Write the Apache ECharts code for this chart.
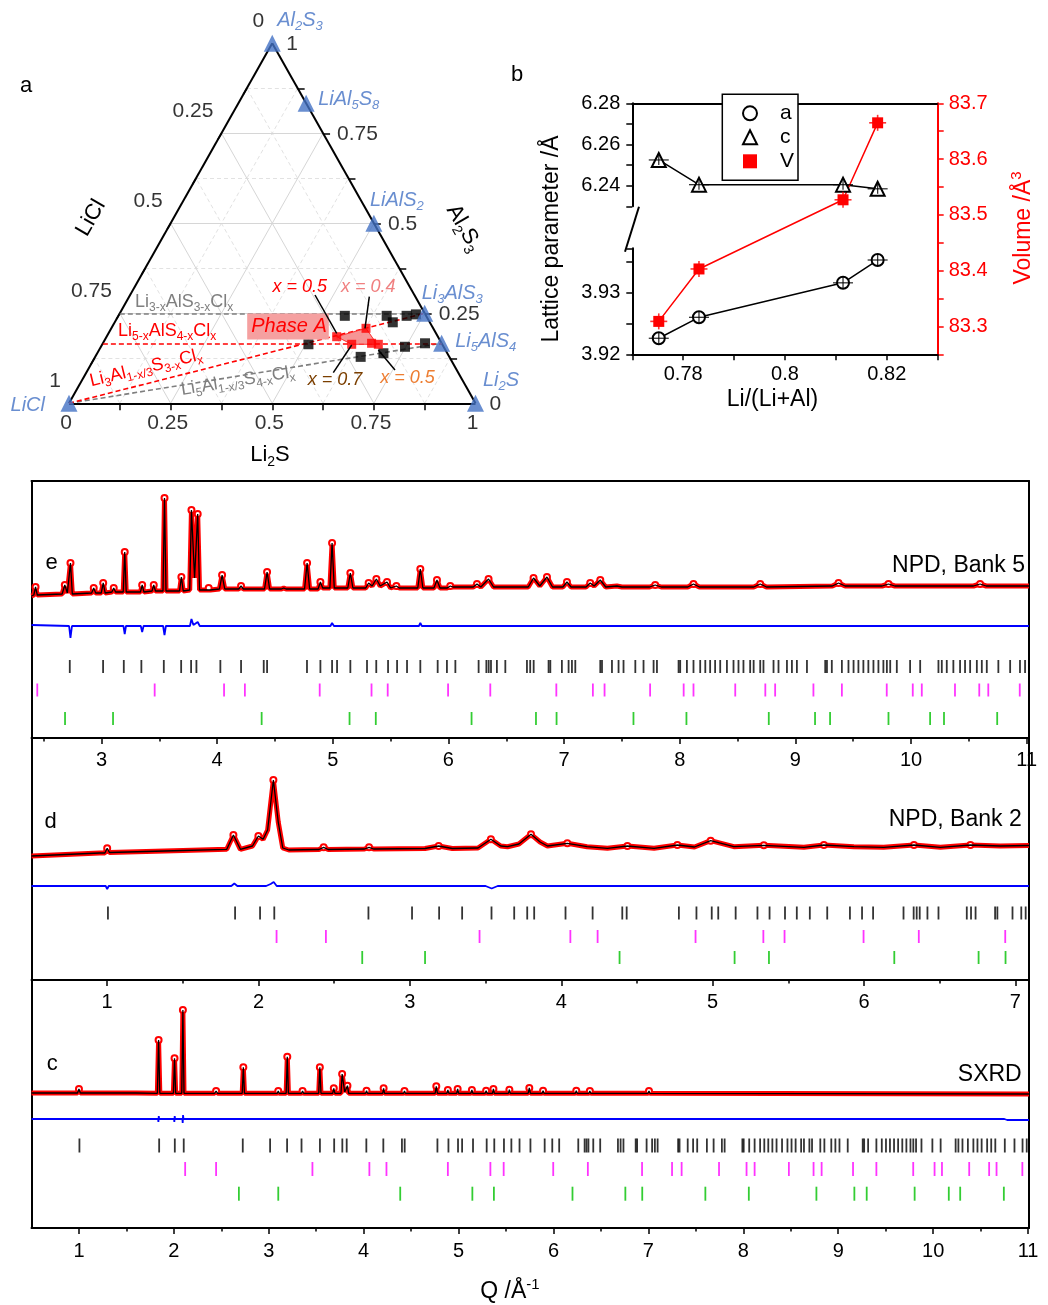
<!DOCTYPE html>
<html><head><meta charset="utf-8">
<script src="https://cdn.jsdelivr.net/npm/echarts@6/dist/echarts.min.js"></script>
<style>html,body{margin:0;padding:0;background:#fff}#c{width:1048px;height:1305px}</style>
</head><body><div id="c"></div>
<script>
const FF = "'Liberation Sans', Arial, Helvetica, sans-serif";
// ================= DATA =================
// (a) ternary, mole fractions [Li2S, Al2S3]  (LiCl = 1 - Li2S - Al2S3)
const compoundNames = ['Al_{2}S_{3}','LiAl_{5}S_{8}','LiAlS_{2}','Li_{3}AlS_{3}','Li_{5}AlS_{4}','Li_{2}S','LiCl'];
const compoundLi2S  = [0, 1/6, 0.5, 0.75, 5/6, 1, 0];
const compoundAl2S3 = [1, 5/6, 0.5, 0.25, 1/6, 0, 0];
const sampleLi2S  = [0.557,0.660,0.684,0.709,0.730,0.507,0.748,0.7925,0.704,0.653];
const sampleAl2S3 = [0.243,0.243,0.225,0.243,0.247,0.164,0.157,0.1667,0.139,0.129];
const phaseALi2S  = [0.566,0.6265,0.6135,0.661,0.679];
const phaseAAl2S3 = [0.185,0.2083,0.1639,0.1667,0.1639];
const phaseAOutline = [[0.566,0.185],[0.6265,0.2083],[0.669,0.170],[0.672,0.164],[0.6135,0.1639]];
const ternTicks = [0, 0.25, 0.5, 0.75, 1];
// (b) lattice parameters
const liRatio = [0.7752, 0.7831, 0.8114, 0.8182];
const latA = [3.9226, 3.9260, 3.9316, 3.9353];
const latC = [6.2525, 6.2405, 6.2405, 6.2385];
const volV = [83.309, 83.403, 83.527, 83.665];
// (e) NPD bank 5 : [Q, intensity a.u.]
const eProfile = [[2.395,30],[2.415,31],[2.43,39],[2.445,31],[2.66,32],[2.683,41],[2.705,33],[2.732,63],[2.748,32],
[2.915,33],[2.933,38],[2.95,33],[2.998,33],[3.015,43],[3.032,33],[3.09,34],[3.106,38],[3.122,34],[3.188,34],[3.201,74],[3.214,34],
[3.337,34],[3.352,41],[3.367,34],[3.437,35],[3.452,41],[3.467,35],[3.532,35],[3.545,128],[3.558,35],[3.675,35],[3.691,49],[3.707,35],
[3.763,36],[3.778,116],[3.805,48],[3.832,112],[3.848,36],[3.912,36],[3.927,38],[3.942,36],[4.02,37],[4.043,51],[4.066,37],
[4.187,37],[4.207,40],[4.227,37],[4.41,37],[4.432,54],[4.454,37],[4.556,37],[4.576,38],[4.596,37],[4.756,37],[4.778,63],[4.8,37],
[4.873,37],[4.893,44],[4.913,38],[4.975,38],[4.994,83],[5.013,38],[5.13,38],[5.152,53],[5.174,38],[5.285,38],[5.31,43],[5.34,40],
[5.377,47],[5.41,40],[5.469,44],[5.5,38],[5.55,40],[5.575,38],[5.735,38],[5.757,57],[5.779,38],[5.875,38],[5.901,46],[5.927,38],
[5.99,38],[6.016,40],[6.04,39],[6.215,39],[6.247,42],[6.28,39],[6.347,47],[6.39,39],[6.69,39],[6.736,48],[6.79,40],[6.852,49],[6.9,39],
[6.99,39],[7.025,44],[7.06,39],[7.19,39],[7.226,43],[7.26,40],[7.313,46],[7.36,39],[7.457,40],[7.5,39],[7.74,39],[7.788,41],[7.84,39],
[8.07,39],[8.119,42],[8.17,39],[8.64,39],[8.696,42],[8.75,39],[9.32,40],[9.373,43],[9.43,40],[9.75,40],[9.805,42],[9.86,40],
[10.54,40],[10.597,42],[10.65,40],[11.02,40]];
const eDiff = [[2.395,1],[2.72,0],[2.732,-12],[2.745,0],[3.19,0],[3.201,-8],[3.212,0],[3.34,0],[3.352,-6],[3.364,0],[3.533,0],[3.545,-9],
[3.557,0],[3.765,0],[3.778,7],[3.795,1],[3.832,4],[3.85,0],[4.98,0],[4.994,3],[5.01,0],[5.745,0],[5.757,3],[5.77,0],[11.02,0]];
// (d) NPD bank 2
const dProfile = [[0.5,30],[0.95,33],[0.985,33],[1.0,37.7],[1.015,33.5],[1.5,35.5],[1.79,36.7],[1.834,51],[1.88,36.7],[1.96,40],
[1.999,50],[2.03,46.7],[2.06,56],[2.098,106],[2.13,64],[2.16,38],[2.2,36],[2.4,36.5],[2.43,38.7],[2.46,36.5],[2.7,37],[2.73,38.7],
[2.76,37],[3.1,37.5],[3.19,40],[3.28,37.5],[3.45,38],[3.535,46.7],[3.6,40],[3.645,39.3],[3.72,42],[3.8,51.7],[3.86,44],[3.909,40],
[4.04,42.7],[4.17,39.3],[4.305,37.7],[4.437,40],[4.613,37.7],[4.767,41],[4.88,39],[4.987,45.3],[5.14,39.3],[5.338,40.7],[5.603,38.7],
[5.735,41],[5.933,39.3],[6.13,38.7],[6.33,41],[6.505,38.7],[6.703,41],[6.9,40],[7.09,40.5]];
const dDiff = [[0.5,0],[0.99,0],[1.0,-3],[1.01,0],[1.82,0],[1.84,2.5],[1.86,0],[1.99,0],[2.0,1.5],[2.02,0],[2.05,0],[2.08,2],[2.1,4],
[2.12,0],[3.5,0],[3.54,-2.5],[3.58,0],[7.09,0]];
// (c) SXRD
const cProfile = [[0.5,26],[0.985,26],[1.0,30],[1.015,26],[1.6,26],[1.826,25.7],[1.839,79],[1.852,25.7],[1.995,25.7],[2.007,60.7],
[2.019,25.7],[2.083,25.7],[2.095,109],[2.107,25.7],[2.43,25.7],[2.445,28],[2.46,25.7],[2.72,25.7],[2.732,51.7],[2.744,25.7],
[3.09,25.7],[3.1,28],[3.11,25.7],[3.183,25.7],[3.195,62.3],[3.207,25.7],[3.345,25.7],[3.356,28],[3.367,25.7],[3.526,25.7],[3.538,51.7],
[3.55,25.7],[3.673,25.7],[3.685,30.7],[3.697,25.7],[3.761,25.7],[3.773,45],[3.8,27],[3.829,33.3],[3.842,25.7],[4.02,25.7],[4.03,28.3],
[4.04,25.7],[4.2,25.7],[4.21,30.7],[4.22,25.7],[4.42,25.7],[4.43,28],[4.44,25.7],[4.753,25.7],[4.765,32.7],[4.777,25.7],[4.877,25.7],
[4.887,29],[4.897,25.7],[4.98,25.7],[4.99,30],[5.0,25.7],[5.13,25.7],[5.14,29],[5.15,25.7],[5.28,25.7],[5.29,28.3],[5.3,25.7],
[5.357,25.7],[5.367,30],[5.377,25.7],[5.525,25.7],[5.535,29.3],[5.545,25.7],[5.733,25.7],[5.745,31],[5.757,25.7],[5.88,25.7],
[5.89,28.3],[5.9,25.7],[6.23,25.7],[6.24,28.3],[6.25,25.7],[6.373,25.7],[6.383,28],[6.393,25.7],[6.996,25.7],[7.006,28],[7.016,25.7],[11.01,25]];
const cDiff = [[0.5,0],[1.834,0],[1.837,-3],[1.841,3],[1.845,0],[2.002,0],[2.005,-3],[2.009,3],[2.013,0],[2.09,0],[2.093,-4],[2.097,4],
[2.101,0],[10.75,0],[10.78,-1],[11.01,-1]];
// reflection positions (Q / Å^-1)
const blackTicks = [1.005,1.845,2.010,2.104,2.726,3.014,3.193,3.345,3.539,3.689,3.775,3.821,4.028,4.207,4.403,4.432,4.777,4.893,4.994,5.037,
5.152,5.296,5.376,5.478,5.556,5.642,5.757,5.907,5.987,6.060,6.261,6.328,6.348,6.368,6.419,6.492,6.679,6.707,6.737,6.866,6.881,6.981,
7.039,7.068,7.097,7.313,7.328,7.414,7.471,7.514,7.616,7.687,7.774,7.803,7.990,8.004,8.062,8.119,8.177,8.221,8.263,8.306,8.350,8.408,
8.465,8.508,8.551,8.609,8.639,8.696,8.724,8.811,8.854,8.927,8.970,9.013,9.100,9.258,9.273,9.315,9.402,9.459,9.503,9.545,9.588,9.631,
9.675,9.718,9.761,9.791,9.820,9.877,9.992,10.079,10.237,10.266,10.309,10.366,10.424,10.467,10.511,10.569,10.612,10.655,10.755,
10.857,10.942,10.986];
const magentaTicks = [2.119,2.445,3.46,4.06,4.24,4.887,5.335,5.475,5.997,6.362,6.933,7.249,7.35,7.744,8.034,8.119,8.48,8.74,8.825,
9.156,9.402,9.79,10.015,10.093,10.38,10.59,10.668,10.94];
const greenTicks = [2.685,3.1,4.385,5.145,5.372,6.2,6.757,6.935,7.6,8.058,8.77,9.17,9.3,9.805,10.165,10.285,10.745];
const eTickLabels = [3,4,5,6,7,8,9,10,11];
const dTickLabels = [1,2,3,4,5,6,7];
const cTickLabels = [1,2,3,4,5,6,7,8,9,10,11];

// ================= HELPERS =================
function rich(s){let out='',i=0,buf='';while(i<s.length){if((s[i]==='_'||s[i]==='^')&&s[i+1]==='{'){if(buf){out+='{n|'+buf+'}';buf='';}
const j=s.indexOf('}',i);out+='{'+(s[i]==='_'?'b':'p')+'|'+s.slice(i+2,j)+'}';i=j+1;}else{buf+=s[i];i++;}}if(buf)out+='{n|'+buf+'}';return out;}
function richStyles(size,color,italic){const sub=Math.round(size*0.64),lh=Math.round(size*1.3);
const base={fontFamily:FF,color:color,fill:color,fontStyle:italic?'italic':'normal'};
return {n:Object.assign({},base,{fontSize:size,lineHeight:lh,verticalAlign:'middle'}),
b:Object.assign({},base,{fontSize:sub,lineHeight:sub,verticalAlign:'bottom'}),
p:Object.assign({},base,{fontSize:sub,lineHeight:sub,verticalAlign:'top'})};}
function txt(x,y,s,size,color,o){o=o||{};const st={text:rich(s),rich:richStyles(size,color,o.italic),align:o.align||'center',verticalAlign:'middle',
textAlign:o.align||'center',textVerticalAlign:'middle'};if(o.bg){st.backgroundColor=o.bg;st.padding=o.pad||0;}
return {type:'text',x:x,y:y,rotation:o.rot||0,z:100,silent:true,style:st};}
function gline(x1,y1,x2,y2,w,c){return {type:'line',z:100,silent:true,shape:{x1,y1,x2,y2},style:{stroke:c||'#000',lineWidth:w||1.5}};}
const tern=(L,A)=>[L+A/2,A];
const zip=(xs,ys)=>xs.map((x,i)=>[x,ys[i]]);
// show observed-point circles only at local maxima of the profile
const withPeakSymbols=prof=>prof.map((p,i)=>{const a=prof[i-1],b=prof[i+1];
  const pk=a&&b&&p[1]>a[1]&&p[1]>b[1]&&p[1]-Math.min(a[1],b[1])>1.5;return {value:p,symbol:pk?'emptyCircle':'none'};});

const grids=[],xAxes=[],yAxes=[],series=[];
const addGrid=g=>{grids.push(g);return grids.length-1;};
const addX=a=>{a.axisLine=Object.assign({onZero:false},a.axisLine||{});xAxes.push(a);return xAxes.length-1;};
const addY=a=>{a.axisLine=Object.assign({onZero:false},a.axisLine||{});yAxes.push(a);return yAxes.length-1;};
const BL={color:'#000',width:2};

// ================= (a) TERNARY =================
const gT=addGrid({left:69,top:43.3,width:406.5,height:360});
const xT=addX({gridIndex:gT,type:'value',min:0,max:1,show:false});
const yT=addY({gridIndex:gT,type:'value',min:0,max:1,show:false});
const PXX=1/406.5, PXY=1/360;
function segs(list,style,z){return {type:'lines',coordinateSystem:'cartesian2d',xAxisIndex:xT,yAxisIndex:yT,polyline:false,clip:false,silent:true,
z:z||2,lineStyle:Object.assign({opacity:1,curveness:0},style),data:list.map(c=>({coords:c}))};}
const solidG=[],dashG=[];
for(let k=1;k<8;k++){const t=k/8,arr=(k%2===0)?solidG:dashG;
arr.push([tern(0,t),tern(1-t,t)]);arr.push([tern(t,0),tern(t,1-t)]);arr.push([tern(1-t,0),tern(0,1-t)]);}
series.push(segs(dashG,{color:'#e2e2e2',width:1,type:[4,3]},1));
series.push(segs(solidG,{color:'#d6d6d6',width:1},1));
const tk=[];
for(let k=1;k<8;k++){const t=k/8;
const pb=tern(t,0);tk.push([pb,[pb[0],pb[1]-7*PXY]]);
const pr=tern(1-t,t);tk.push([pr,[pr[0]+7*PXX,pr[1]]]);
const pl=tern(0,t);tk.push([pl,[pl[0]-3.5*PXX,pl[1]-6*PXY]]);}
series.push(segs(tk,{color:'#000',width:1.5},3));
series.push(segs([[tern(0,0),tern(1,0)],[tern(1,0),tern(0,1)],[tern(0,1),tern(0,0)]],{color:'#000',width:2},3));
const iLi3=3,iLi5=4;
series.push(segs([[tern(0,compoundAl2S3[iLi3]),tern(compoundLi2S[iLi3],compoundAl2S3[iLi3])],[tern(0,0),tern(compoundLi2S[iLi5],compoundAl2S3[iLi5])]],{color:'#7f7f7f',width:1.6,type:[5,3]},4));
series.push(segs([[tern(0,compoundAl2S3[iLi5]),tern(compoundLi2S[iLi5],compoundAl2S3[iLi5])],[tern(0,0),tern(compoundLi2S[iLi3],compoundAl2S3[iLi3])]],{color:'#ff0000',width:1.6,type:[5,3]},4));
series.push({type:'custom',xAxisIndex:xT,yAxisIndex:yT,silent:true,z:5,data:[[0,0]],
renderItem:(p,api)=>({type:'polygon',shape:{points:phaseAOutline.map(q=>api.coord(tern(q[0],q[1])))},style:{fill:'rgba(245,130,130,0.85)',stroke:'#ff3030',lineWidth:1}})});
series.push({type:'scatter',xAxisIndex:xT,yAxisIndex:yT,clip:false,silent:true,z:6,symbol:'rect',symbolSize:10,itemStyle:{color:'#000'},
data:sampleLi2S.map((L,i)=>tern(L,sampleAl2S3[i]))});
series.push({type:'scatter',xAxisIndex:xT,yAxisIndex:yT,clip:false,silent:true,z:6,symbol:'rect',symbolSize:9,itemStyle:{color:'#ff0000'},
data:phaseALi2S.map((L,i)=>tern(L,phaseAAl2S3[i]))});
const compLab=[[5,-23,'left'],[12,-4,'left'],[-4,-23,'left'],[-3,-20,'left'],[13.5,-2,'left'],[7.5,-23,'left'],[-24,2,'right']];
const CS=17;
series.push({type:'scatter',xAxisIndex:xT,yAxisIndex:yT,clip:false,silent:true,z:7,symbol:'triangle',symbolSize:CS,itemStyle:{color:'#4472C4'},
data:compoundNames.map((n,i)=>({value:tern(compoundLi2S[i],compoundAl2S3[i]),
label:{show:true,formatter:rich(n),position:[CS/2+compLab[i][0],CS/2+compLab[i][1]],align:compLab[i][2],verticalAlign:'middle',rich:richStyles(20,'#4472C4',true)}}))});
function labelSeries(pts,texts,dx,dy,align){return {type:'scatter',xAxisIndex:xT,yAxisIndex:yT,clip:false,silent:true,z:8,symbolSize:2,itemStyle:{color:'rgba(0,0,0,0)'},
data:pts.map((p,i)=>({value:p,label:{show:true,formatter:texts[i],position:[1+dx,1+dy],align:align,verticalAlign:'middle',fontSize:21,fontFamily:FF,color:'#000'}}))};}
const tl=ternTicks.map(String);
series.push(labelSeries(ternTicks.map(v=>tern(v,0)),tl,-3,20,'center'));
series.push(labelSeries(ternTicks.map(c=>tern(0,1-c)),tl,-8,-22,'right'));
series.push(labelSeries(ternTicks.map(a=>tern(1-a,a)),tl,14,1,'left'));

// ================= (b) LATTICE PARAMETERS =================
const bL=632.3,bW=305.4;
const gB1=addGrid({left:bL,top:103.3,width:bW,height:103});
const gB2=addGrid({left:bL,top:248.3,width:bW,height:106});
const gB3=addGrid({left:bL,top:103.3,width:bW,height:251});
const lab={fontSize:20,fontFamily:FF,color:'#000'};
const xB1=addX({gridIndex:gB1,type:'value',position:'top',min:0.77,max:0.83,axisLine:{lineStyle:BL},axisTick:{show:false},axisLabel:{show:false},splitLine:{show:false}});
const yB1=addY({gridIndex:gB1,type:'value',min:6.23,max:6.28,interval:0.01,axisLine:{lineStyle:BL},axisTick:{length:6,lineStyle:{color:'#000',width:1.5}},
axisLabel:Object.assign({margin:12,formatter:v=>Math.round(v*100)%2===0?v.toFixed(2):''},lab),splitLine:{show:false}});
const xB2=addX({gridIndex:gB2,type:'value',min:0.77,max:0.83,interval:0.01,axisLine:{lineStyle:BL},axisTick:{length:6,lineStyle:{color:'#000',width:1.5}},
axisLabel:Object.assign({margin:10,formatter:v=>Math.round(v*100)%2===0?String(+v.toFixed(2)):''},lab),splitLine:{show:false}});
const yB2=addY({gridIndex:gB2,type:'value',min:3.92,max:3.9372,interval:0.005,axisLine:{lineStyle:BL},axisTick:{length:6,lineStyle:{color:'#000',width:1.5}},
axisLabel:Object.assign({margin:12,formatter:v=>Math.round(v*1000)%10===0?v.toFixed(2):''},lab),splitLine:{show:false}});
const xB3=addX({gridIndex:gB3,type:'value',min:0.77,max:0.83,show:false});
const yB3=addY({gridIndex:gB3,type:'value',position:'right',min:83.25,max:83.7,interval:0.05,axisLine:{lineStyle:{color:'#ff0000',width:2}},
axisTick:{length:6,lineStyle:{color:'#ff0000',width:1.5}},axisLabel:{margin:11,fontSize:20,fontFamily:FF,color:'#ff0000',
formatter:v=>Math.round(v*100)%10===0?v.toFixed(1):''},splitLine:{show:false}});
series.push({name:'c',type:'line',xAxisIndex:xB1,yAxisIndex:yB1,data:zip(liRatio,latC),symbol:'emptyTriangle',symbolSize:14,
lineStyle:{color:'#000',width:1.5},itemStyle:{color:'#000'},z:3});
series.push({name:'a',type:'line',xAxisIndex:xB2,yAxisIndex:yB2,data:zip(liRatio,latA),symbol:'emptyCircle',symbolSize:12,
lineStyle:{color:'#000',width:1.5},itemStyle:{color:'#000'},z:3});
series.push({name:'V',type:'line',xAxisIndex:xB3,yAxisIndex:yB3,data:zip(liRatio,volV),symbol:'rect',symbolSize:11,
lineStyle:{color:'#ff0000',width:1.5},itemStyle:{color:'#ff0000'},z:3});
function ebar(xi,yi,data,color,w,h){return {type:'scatter',xAxisIndex:xi,yAxisIndex:yi,data:data,symbol:'rect',symbolSize:[w,h],itemStyle:{color:color},silent:true,z:4};}
series.push(ebar(xB1,yB1,zip(liRatio,latC),'#000',20,1.3),ebar(xB1,yB1,zip(liRatio,latC),'#000',1.3,10));
series.push(ebar(xB2,yB2,zip(liRatio,latA),'#000',20,1.3),ebar(xB2,yB2,zip(liRatio,latA),'#000',1.3,12));
series.push(ebar(xB3,yB3,zip(liRatio,volV),'#ff0000',17,1.6),ebar(xB3,yB3,zip(liRatio,volV),'#ff0000',1.6,16));

// ================= (e,d,c) DIFFRACTION =================
function panel(top,height,min,max,ymin,ymax,majors,minors,margin,withTop,prof,diff,rows,tickH){
  const g=addGrid({left:31.5,top:top,width:997.5,height:height});
  const xi=addX({gridIndex:g,type:'value',min,max,position:'bottom',axisLine:{lineStyle:BL},
    axisTick:{length:6,lineStyle:{color:'#000',width:1.5},customValues:majors},
    axisLabel:{margin:margin,fontSize:20,fontFamily:FF,color:'#000',customValues:majors},splitLine:{show:false}});
  addX({gridIndex:g,type:'value',min,max,position:'bottom',axisLine:{show:false},
    axisTick:{length:3.5,lineStyle:{color:'#000',width:1.5},customValues:minors},axisLabel:{show:false},splitLine:{show:false}});
  if(withTop) addX({gridIndex:g,type:'value',min,max,position:'top',axisLine:{lineStyle:BL},axisTick:{show:false},axisLabel:{show:false},splitLine:{show:false}});
  const yi=addY({gridIndex:g,type:'value',min:ymin,max:ymax,axisLine:{lineStyle:BL},axisTick:{show:false},axisLabel:{show:false},splitLine:{show:false}});
  addY({gridIndex:g,type:'value',position:'right',min:ymin,max:ymax,axisLine:{lineStyle:BL},axisTick:{show:false},axisLabel:{show:false},splitLine:{show:false}});
  series.push({type:'line',xAxisIndex:xi,yAxisIndex:yi,data:withPeakSymbols(prof),symbolSize:6,showSymbol:true,
    lineStyle:{color:'#ff0000',width:5},itemStyle:{color:'#ff0000',borderWidth:1.2},z:2,silent:true});
  series.push({type:'line',xAxisIndex:xi,yAxisIndex:yi,data:prof,symbol:'none',lineStyle:{color:'#000',width:1.3},z:3,silent:true});
  series.push({type:'line',xAxisIndex:xi,yAxisIndex:yi,data:diff,symbol:'none',lineStyle:{color:'#0000ff',width:1.8},z:3,silent:true});
  [[blackTicks,'#000'],[magentaTicks,'#ff00ff'],[greenTicks,'#00c000']].forEach((r,k)=>{
    series.push({type:'scatter',xAxisIndex:xi,yAxisIndex:yi,symbol:'rect',symbolSize:[1.8,tickH],itemStyle:{color:r[1]},silent:true,z:4,
      data:r[0].filter(q=>q>min&&q<max).map(q=>[q,rows[k]])});});
}
const halves=(a,b)=>{const r=[];for(let v=a;v<=b+1e-9;v+=1)r.push(v);return r;};
panel(481,257,2.395,11.02,-112,145,eTickLabels,halves(2.5,10.5),12,true,eProfile,eDiff,[-40.5,-64,-92.5],13);
panel(738,242,0.5,7.09,-94,148,dTickLabels,halves(1.5,6.5),12,false,dProfile,dDiff,[-27,-50.5,-71.5],13);
panel(980,248,0.5,11.01,-109,139,cTickLabels,halves(1.5,10.5),13,false,cProfile,cDiff,[-26.5,-50,-74.7],14);

// ================= ANNOTATIONS =================
const G=[];
G.push(txt(26,86,'a',22,'#000'),txt(517,75,'b',22,'#000'));
G.push(txt(91,218,'LiCl',22,'#000',{rot:Math.PI/3}));
G.push(txt(464,228,'Al_{2}S_{3}',22,'#000',{rot:-Math.PI/3}));
G.push(txt(270,455,'Li_{2}S',22,'#000'));
G.push(txt(135,302,'Li_{3-x}AlS_{3-x}Cl_{x}',18,'#7f7f7f',{align:'left'}));
G.push(txt(118,331,'Li_{5-x}AlS_{4-x}Cl_{x}',18,'#ff0000',{align:'left'}));
G.push(txt(146,368,'Li_{3}Al_{1-x/3}S_{3-x}Cl_{x}',18,'#ff0000',{rot:13.5*Math.PI/180}));
G.push(txt(238,381,'Li_{5}Al_{1-x/3}S_{4-x}Cl_{x}',18,'#7f7f7f',{rot:9*Math.PI/180}));
G.push(txt(288,326.5,'Phase A',20,'#ff0000',{italic:true,bg:'#F5A0A0',pad:[0,2,0,4]}));
G.push(txt(299.7,286.7,'x = 0.5',18,'#ff0000',{italic:true}),txt(368.3,286.7,'x = 0.4',18,'#F08080',{italic:true}),
txt(335,380,'x = 0.7',18,'#7B3F00',{italic:true}),txt(407.5,377.7,'x = 0.5',18,'#ED7D31',{italic:true}));
G.push(gline(315,295,336.7,333.3),gline(369.3,296.7,365,328.3),gline(333.3,372.7,351.7,345),gline(395,370,378.3,350));
G.push(txt(552,239,'Lattice parameter /Å',23,'#000',{rot:Math.PI/2}));
G.push(txt(1024,228,'Volume /Å^{3}',23,'#ff0000',{rot:Math.PI/2}));
G.push(txt(772.5,400,'Li/(Li+Al)',23,'#000'));
G.push(gline(625,251.7,639,206.7,2));
G.push(txt(51.7,563.3,'e',22,'#000'),txt(1025,566,'NPD, Bank 5',23,'#000',{align:'right'}));
G.push(txt(50.7,821.7,'d',22,'#000'),txt(1021.7,820,'NPD, Bank 2',23,'#000',{align:'right'}));
G.push(txt(52.3,1064,'c',22,'#000'),txt(1021.7,1075,'SXRD',23,'#000',{align:'right'}));
G.push(txt(510,1292,'Q /Å^{-1}',23,'#000'));

const chart=echarts.init(document.getElementById('c'),null,{renderer:'canvas'});
chart.setOption({
  animation:false,backgroundColor:'#fff',textStyle:{fontFamily:FF},
  grid:grids,xAxis:xAxes,yAxis:yAxes,series:series,
  legend:{orient:'vertical',left:722.3,top:94.3,padding:[8,4,8,19.7],itemGap:2,itemWidth:14,itemHeight:14,
    backgroundColor:'#fff',borderColor:'#000',borderWidth:1.5,selectedMode:false,z:10,
    textStyle:{fontFamily:FF,fontSize:21,color:'#000',lineHeight:22,padding:[0,0,0,18]},
    data:[{name:'a',icon:'emptyCircle'},{name:'c',icon:'emptyTriangle'},{name:'V',icon:'rect'}]},
  graphic:{elements:G}
});
</script></body></html>
